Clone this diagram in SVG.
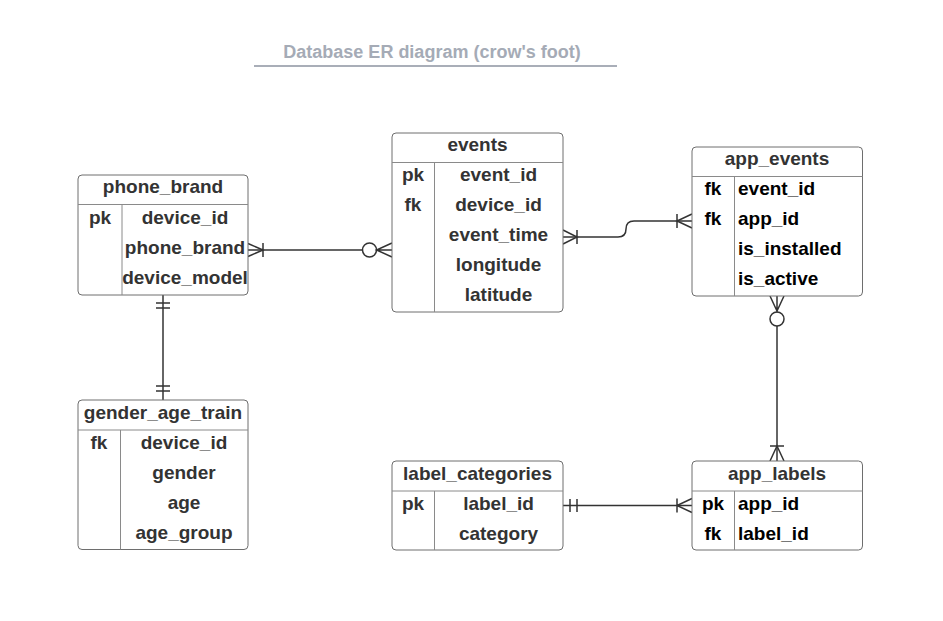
<svg xmlns="http://www.w3.org/2000/svg" width="943" height="621" viewBox="0 0 943 621">
<style>
.box{fill:#fff;stroke:#6e6e6e;stroke-width:1}
.div{stroke:#8a8a8a;stroke-width:1;fill:none}
.t{font-family:"Liberation Sans",Arial,sans-serif;font-weight:bold;font-size:19px;fill:#333}
.c{text-anchor:middle}
.k{font-family:"Liberation Sans",Arial,sans-serif;font-weight:bold;font-size:19px;fill:#000}
.ln{stroke:#333;stroke-width:1.5;fill:none}
.title{font-family:"Liberation Sans",Arial,sans-serif;font-weight:bold;font-size:18px;fill:#a5abb6;text-anchor:middle}
</style>
<rect width="943" height="621" fill="#fff"/>
<g id="title">
<text class="title" x="432" y="58">Database ER diagram (crow's foot)</text>
<line x1="254" y1="66" x2="617" y2="66" stroke="#a9aeb8" stroke-width="2"/>
</g>
<g id="connectors">
<path class="ln" d="M248,250 H362.5"/>
<path class="ln" d="M248,243.5 L263,250 L248,256.5 M263,243 V257"/>
<circle class="ln" cx="369.5" cy="250" r="7"/>
<path class="ln" d="M376.5,250 H392 M392,243 L376.5,250 L392,257"/>
<path class="ln" d="M563,237 H618 Q626,237 626,229 Q626,221 634,221 H692"/>
<path class="ln" d="M563,230 L577,237 L563,244 M577,230 V244"/>
<path class="ln" d="M677,214 V228 M692,214 L677,221 L692,228"/>
<path class="ln" d="M777,296 V312.5 M770,296 L777,311 L784,296"/>
<circle class="ln" cx="777" cy="319" r="7"/>
<path class="ln" d="M777,326 V461"/>
<path class="ln" d="M770,446 H784 M770,461 L777,446 L784,461"/>
<path class="ln" d="M563,505.5 H692"/>
<path class="ln" d="M570,499 V512 M577,499 V512"/>
<path class="ln" d="M677,498.5 V512.5 M692,498.5 L677,505.5 L692,512.5"/>
<path class="ln" d="M163,295 V400"/>
<path class="ln" d="M156,303 H170 M156,308 H170 M156,386 H170 M156,391 H170"/>
</g>
<g id="phone_brand">
<rect class="box" x="78" y="175" width="170" height="120" rx="4"/>
<path class="div" d="M78,204.5 H248 M122,204.5 V295"/>
<text class="t c" x="163" y="193">phone_brand</text>
<text class="t c" x="100" y="224">pk</text>
<text class="t c" x="185" y="224">device_id</text>
<text class="t c" x="185" y="254">phone_brand</text>
<text class="t c" x="185" y="284">device_model</text>
</g>
<g id="events">
<rect class="box" x="392" y="133" width="171" height="179" rx="4"/>
<path class="div" d="M392,162.5 H563 M434.5,162.5 V312"/>
<text class="t c" x="477.5" y="150.5">events</text>
<text class="t c" x="413" y="181">pk</text>
<text class="t c" x="413" y="211">fk</text>
<text class="t c" x="498.5" y="181">event_id</text>
<text class="t c" x="498.5" y="211">device_id</text>
<text class="t c" x="498.5" y="241">event_time</text>
<text class="t c" x="498.5" y="271">longitude</text>
<text class="t c" x="498.5" y="301">latitude</text>
</g>
<g id="app_events">
<rect class="box" x="692" y="147" width="170.5" height="149" rx="4"/>
<path class="div" d="M692,176.5 H862.5 M734.5,176.5 V296"/>
<text class="t c" x="777" y="165">app_events</text>
<text class="k c" x="713" y="195">fk</text>
<text class="k c" x="713" y="225">fk</text>
<text class="k" x="738" y="195">event_id</text>
<text class="k" x="738" y="225">app_id</text>
<text class="k" x="738" y="255">is_installed</text>
<text class="k" x="738" y="285">is_active</text>
</g>
<g id="gender_age_train">
<rect class="box" x="78" y="400" width="170" height="149.5" rx="4"/>
<path class="div" d="M78,430 H248 M120.5,430 V549.5"/>
<text class="t c" x="163" y="418.5">gender_age_train</text>
<text class="t c" x="99" y="449">fk</text>
<text class="t c" x="184" y="449">device_id</text>
<text class="t c" x="184" y="479">gender</text>
<text class="t c" x="184" y="509">age</text>
<text class="t c" x="184" y="539">age_group</text>
</g>
<g id="label_categories">
<rect class="box" x="392" y="461" width="171" height="89" rx="4"/>
<path class="div" d="M392,491 H563 M434.5,491 V550"/>
<text class="t c" x="477.5" y="479.5">label_categories</text>
<text class="t c" x="413" y="510">pk</text>
<text class="t c" x="498.5" y="510">label_id</text>
<text class="t c" x="498.5" y="540">category</text>
</g>
<g id="app_labels">
<rect class="box" x="692" y="461" width="170.5" height="89" rx="4"/>
<path class="div" d="M692,491 H862.5 M734.5,491 V550"/>
<text class="t c" x="777" y="479.5">app_labels</text>
<text class="k c" x="713" y="510">pk</text>
<text class="k c" x="713" y="540">fk</text>
<text class="k" x="738" y="510">app_id</text>
<text class="k" x="738" y="540">label_id</text>
</g>
</svg>
